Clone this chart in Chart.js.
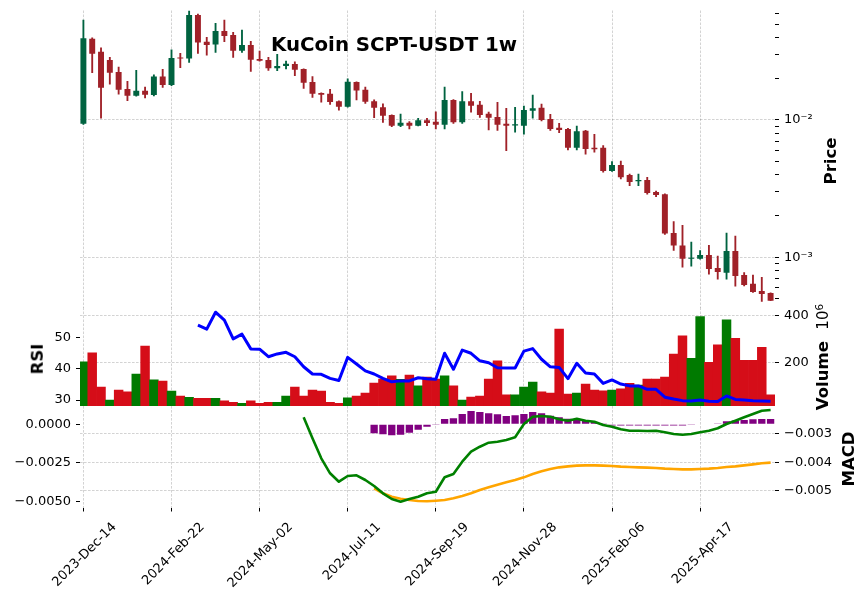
<!DOCTYPE html>
<html>
<head>
<meta charset="utf-8">
<script src="https://cdn.jsdelivr.net/npm/chart.js@4.4.1/dist/chart.umd.min.js"></script>
<style>
html,body{margin:0;padding:0;background:#fff;}
#wrap{position:relative;width:868px;height:600px;overflow:hidden;font-family:"DejaVu Sans",sans-serif;color:#000;}
canvas{position:absolute;left:0;top:0;}
.lbl{position:absolute;white-space:nowrap;font-weight:bold;font-size:16.5px;line-height:1;transform:translate(-50%,-50%) rotate(-90deg);}
.lbl .n{font-weight:normal;font-size:15px;}
.lbl sup{font-size:0.7em;vertical-align:0.5em;line-height:0;}
#title{position:absolute;left:394px;top:45.3px;transform:translate(-50%,-50%);font-weight:bold;font-size:19.8px;white-space:nowrap;line-height:1;}
</style>
</head>
<body>
<div id="wrap">
<canvas id="cPrice" width="868" height="600"></canvas>
<canvas id="cVol" width="868" height="600"></canvas>
<canvas id="cMacd" width="868" height="600"></canvas>
<div id="title">KuCoin SCPT-USDT 1w</div>
<div class="lbl" style="left:831px;top:161px">Price</div>
<div class="lbl" style="left:38px;top:359px">RSI</div>
<div class="lbl" style="left:823px;top:357px">Volume&nbsp;&nbsp;<span class="n">10<sup>6</sup></span></div>
<div class="lbl" style="left:849px;top:459px">MACD</div>
</div>
<script>
// ---------------- data (weekly candles, index 0 = 2023-Dec-14) ----------------
const tickIdx = [0, 10, 20, 30, 40, 50, 60, 70];
const tickLabels = ['2023-Dec-14','2024-Feb-22','2024-May-02','2024-Jul-11','2024-Sep-19','2024-Nov-28','2025-Feb-06','2025-Apr-17'];

const open = [0.0094,0.0391,0.0314,0.0274,0.0224,0.0168,0.0150,0.0163,0.0152,0.0207,
  0.0180,0.0284,0.0280,0.0582,0.0372,0.0354,0.0445,0.0416,0.0320,0.0352,
  0.0278,0.0274,0.0238,0.0247,0.0256,0.0235,0.0189,0.0157,0.0155,0.0137,
  0.0125,0.0189,0.0166,0.0137,0.0124,0.01087,0.00909,0.00956,0.00909,0.00995,
  0.00972,0.00924,0.0140,0.00962,0.0137,0.0129,0.0111,0.0105,0.0094,0.00912,
  0.00909,0.01169,0.0123,0.01017,0.00879,0.0086,0.00629,0.00836,0.00629,0.00629,
  0.00425,0.0047,0.00398,0.00358,0.00366,0.00299,0.00288,0.0015,0.00122,0.000977,
  0.000975,0.00104,0.000836,0.000773,0.00111,0.000743,0.000643,0.000568,0.000549];
const high = [0.0535,0.0397,0.0336,0.0286,0.0243,0.0191,0.0230,0.0174,0.0213,0.0234,
  0.0324,0.0306,0.0625,0.0591,0.0400,0.0506,0.0535,0.0435,0.0452,0.0374,
  0.0318,0.0286,0.0301,0.0269,0.0265,0.0236,0.0207,0.0158,0.0167,0.0138,
  0.0199,0.0190,0.0174,0.0140,0.0131,0.01090,0.01106,0.00972,0.0103,0.0103,
  0.01149,0.0174,0.0141,0.0161,0.01565,0.0137,0.01144,0.01346,0.01217,0.01237,
  0.01265,0.0152,0.01308,0.0110,0.00946,0.0087,0.00904,0.0084,0.00787,0.0065,
  0.00497,0.00503,0.00404,0.00404,0.00383,0.00304,0.0029,0.00182,0.00171,0.00129,
  0.00112,0.00122,0.00102,0.0015,0.00143,0.000773,0.000743,0.000715,0.00055];
const low = [0.0093,0.0221,0.0103,0.0182,0.0154,0.0138,0.0149,0.0145,0.0150,0.0173,
  0.0178,0.0240,0.0263,0.0306,0.0296,0.0311,0.0372,0.0286,0.0311,0.0226,
  0.0268,0.0230,0.0229,0.0235,0.0210,0.0170,0.0146,0.0135,0.0130,0.0118,
  0.0124,0.0140,0.0132,0.0104,0.00962,0.00894,0.00894,0.0086,0.00905,0.00909,
  0.0086,0.0086,0.00946,0.00946,0.01138,0.01046,0.00846,0.00841,0.00598,0.00814,
  0.00787,0.0103,0.00983,0.0084,0.00808,0.00605,0.00605,0.00563,0.00582,0.00416,
  0.00422,0.00372,0.00332,0.00332,0.00288,0.00276,0.00147,0.00112,0.000846,0.00086,
  0.00097,0.000752,0.000692,0.000692,0.000615,0.000618,0.000555,0.000478,0.000483];
const close = [0.0394,0.0304,0.0172,0.0221,0.0166,0.0150,0.0163,0.0153,0.0207,0.0180,
  0.0283,0.0280,0.0582,0.0366,0.0352,0.0445,0.0409,0.0320,0.0352,0.0275,
  0.0270,0.0238,0.0247,0.0257,0.0232,0.0187,0.0155,0.0153,0.0135,0.0125,
  0.0190,0.0164,0.0136,0.0123,0.01075,0.00909,0.00956,0.00909,0.00995,0.00951,
  0.00924,0.0140,0.00962,0.0137,0.0127,0.01087,0.0104,0.00924,0.00909,0.0093,
  0.01183,0.01217,0.0100,0.0086,0.00846,0.00629,0.00827,0.00615,0.00612,0.00425,
  0.0047,0.00383,0.00354,0.00366,0.00294,0.00284,0.00149,0.00122,0.000977,0.000988,
  0.00104,0.000822,0.000781,0.00111,0.000731,0.000628,0.000559,0.00054,0.000483];
// volume in millions (axis shows x 10^6)
const volumeM = [202,241,93,37,80,72,149,270,124,119,
  76,54,49,44,44,44,33,27,23,33,
  23,27,27,54,93,54,80,76,27,23,
  46,54,67,110,128,141,126,145,98,136,
  128,141,98,37,50,54,128,206,59,59,
  93,115,72,67,344,63,67,106,80,77,
  80,85,109,102,128,128,136,236,314,217,
  397,200,275,383,304,209,209,265,59];

const rsiStart = 13;
const rsi = [53.9,52.6,58.0,55.5,49.5,51.0,46.3,46.2,43.8,44.7,
  45.2,43.8,40.6,38.3,38.2,36.9,36.2,43.6,41.5,39.3,
  38.3,36.9,35.8,36.1,36.1,37.1,36.8,36.6,44.9,39.8,
  45.9,44.9,42.5,41.9,40.3,40.2,40.2,45.6,46.4,43.0,
  40.6,40.4,36.8,41.7,38.6,38.3,35.3,36.4,35.1,34.5,
  34.5,33.4,33.4,30.9,30.3,29.8,29.7,30.0,29.6,29.5,
  31.3,30.2,30.0,29.8,29.7,29.6];

const macdStart = 25;
const macdLine = [-0.002414,-0.003151,-0.003853,-0.004379,-0.004674,-0.004474,-0.004449,-0.004614,
  -0.004825,-0.005081,-0.005281,-0.005375,-0.005281,-0.0052,-0.005081,-0.005025,-0.004519,-0.004404,
  -0.003971,-0.003621,-0.003446,-0.003305,-0.00327,-0.003211,-0.003116,-0.002649,-0.002393,-0.002368,
  -0.002393,-0.002484,-0.002533,-0.002463,-0.002533,-0.002568,-0.002684,-0.002744,-0.002835,-0.002884,
  -0.002884,-0.002895,-0.002884,-0.00294,-0.003,-0.003025,-0.003,-0.00294,-0.002884,-0.0028,
  -0.002649,-0.002533,-0.002414,-0.002298,-0.002182,-0.002158];

const signalStart = 33;
const signalLine = [-0.004905,-0.005081,-0.0052,-0.00527,-0.005316,-0.005351,-0.005361,-0.00534,-0.005316,-0.005257,
  -0.005175,-0.005082,-0.004965,-0.00487,-0.004778,-0.004696,-0.004614,-0.004521,-0.004404,-0.00431,
  -0.004228,-0.00417,-0.004135,-0.004111,-0.0041,-0.0041,-0.004111,-0.004123,-0.004146,-0.004158,
  -0.00417,-0.004181,-0.004193,-0.004216,-0.004228,-0.00424,-0.00424,-0.004228,-0.004216,-0.004193,
  -0.004158,-0.004135,-0.0041,-0.004065,-0.004029,-0.004006];

const histStart = 33;
const macdHist = [-0.00058,-0.00065,-0.00071,-0.00067,-0.00054,-0.00035,-0.000155,-0.00005,0.00034,0.00039,
  0.00067,0.00086,0.00079,0.00071,0.00065,0.00054,0.00058,0.00067,0.00079,0.00071,
  0.00056,0.00045,0.00036,0.00032,0.00028,0.00015,0.00005,-0.00007,-0.00007,-0.00007,
  -0.00007,-0.00007,-0.00007,-0.00007,-0.00007,-0.00007,-0.00005,0.0,0.0,0.00005,
  0.0002,0.00024,0.00028,0.00032,0.00034,0.00034];

const priceTicks = [0.0005,0.0006,0.0007,0.0008,0.0009,0.001,0.002,0.003,0.004,0.005,0.006,0.007,0.008,0.009,
  0.01,0.02,0.03,0.04,0.05,0.06];
const priceMajor = [0.01, 0.001];
const priceMajorLabels = ['10\u207B\u00B2', '10\u207B\u00B3'];
const volTicks = [200, 400];
const rsiTicks = [30, 40, 50];
const macdLeftTicks = [-0.005, -0.0025, 0];
const macdRightTicks = [-0.005, -0.004, -0.003];

// ---------------- layout / style ----------------
const W = 868, H = 600;
const PLOT_L = 80, PLOT_R = 775;
const PRICE_TOP = 10.5, PRICE_BOTTOM = 307.5, VOL_BOTTOM = 406, MACD_BOTTOM = 507.5;
const X_MIN = -0.386, X_MAX = 78.5;
const PRICE_MIN = 0.00043087, PRICE_MAX = 0.06272;
const VOL_MIN = 11.2, VOL_MAX = 436.7;
const RSI_MIN = 28.09, RSI_MAX = 59.5;
const HIST_MIN = -0.005375, HIST_MAX = 0.001182;
const MACD_MIN = -0.005579, MACD_MAX = -0.002018;

const UP = '#006340', DOWN = '#a02128', VUP = '#007a00', VDOWN = '#d50d18';
const GRID = 'rgba(0,0,0,0.22)';
const DASH = [2.6, 1.4];
const minus = s => s.replace('-', '\u2212');

Chart.defaults.font.family = '"DejaVu Sans", sans-serif';
Chart.defaults.font.size = 13;
Chart.defaults.color = '#000';

const idx = open.map((_, i) => i);
const candleColor = idx.map(i => close[i] >= open[i] ? UP : DOWN);
const volColor = idx.map(i => (i === 0 || close[i] >= close[i - 1]) ? VUP : VDOWN);

function fixedY(width) {
  return s => { s.width = width; s.paddingTop = 0; s.paddingBottom = 0; };
}
function setTicks(list) {
  return s => { s.ticks = list.map(v => ({value: v})); };
}
function makeX(show) {
  return {
    type: 'linear', position: 'bottom', min: X_MIN, max: X_MAX, offset: false,
    grid: {display: true, color: GRID, lineWidth: 0.8, drawTicks: show, tickLength: 4,
           tickColor: '#000', tickWidth: 1, offset: false},
    border: {display: false, dash: DASH},
    ticks: {display: show, autoSkip: false, maxRotation: 45, minRotation: 45, padding: 8, labelOffset: 31,
            callback: v => { const k = tickIdx.indexOf(v); return k >= 0 ? tickLabels[k] : ''; }},
    afterBuildTicks: setTicks(tickIdx),
    afterFit: s => { s.height = show ? H - MACD_BOTTOM : 0; s.paddingLeft = 0; s.paddingRight = 0; }
  };
}
const common = {
  responsive: false, devicePixelRatio: 1, animation: false, events: [],
  plugins: {legend: {display: false}, tooltip: {enabled: false}, title: {display: false}}
};

// ---------------- price (candles) ----------------
new Chart(document.getElementById('cPrice'), {
  type: 'bar',
  data: {datasets: [
    {label: 'wick', data: idx.map(i => ({x: i, y: [low[i], high[i]]})), backgroundColor: candleColor,
     barThickness: 1.2, grouped: false, order: 2, yAxisID: 'y'},
    {label: 'body', data: idx.map(i => ({x: i, y: [open[i], close[i]]})), backgroundColor: candleColor,
     barPercentage: 0.75, categoryPercentage: 0.9, minBarLength: 1, grouped: false, order: 1, yAxisID: 'y'}
  ]},
  options: Object.assign({}, common, {
    layout: {padding: {left: PLOT_L, right: 0, top: PRICE_TOP, bottom: H - PRICE_BOTTOM}, autoPadding: false},
    scales: {
      x: makeX(false),
      y: {
        type: 'logarithmic', position: 'right', min: PRICE_MIN, max: PRICE_MAX,
        grid: {color: c => (c.tick && priceMajor.includes(c.tick.value)) ? GRID : 'rgba(0,0,0,0)',
               lineWidth: 0.8, tickLength: 4, tickColor: '#000', tickWidth: 1},
        border: {display: false, dash: DASH},
        ticks: {padding: 5, autoSkip: false,
                callback: v => { const k = priceMajor.indexOf(v); return k >= 0 ? priceMajorLabels[k] : ''; }},
        afterBuildTicks: setTicks(priceTicks),
        afterFit: fixedY(W - PLOT_R)
      }
    }
  })
});

// ---------------- volume + RSI ----------------
new Chart(document.getElementById('cVol'), {
  type: 'bar',
  data: {datasets: [
    {type: 'line', label: 'RSI', data: rsi.map((v, k) => ({x: rsiStart + k, y: v})), borderColor: '#0000ff',
     borderWidth: 3, pointRadius: 0, tension: 0, borderJoinStyle: 'round', yAxisID: 'yL', order: 0},
    {label: 'Volume', data: idx.map(i => ({x: i, y: volumeM[i]})), backgroundColor: volColor,
     barPercentage: 1, categoryPercentage: 1, grouped: false, yAxisID: 'yR', order: 1}
  ]},
  options: Object.assign({}, common, {
    layout: {padding: {left: 0, right: 0, top: PRICE_BOTTOM, bottom: H - VOL_BOTTOM}, autoPadding: false},
    scales: {
      x: makeX(false),
      yL: {type: 'linear', position: 'left', min: RSI_MIN, max: RSI_MAX,
           grid: {drawOnChartArea: false, tickLength: 4, tickColor: '#000', tickWidth: 1},
           border: {display: false},
           ticks: {padding: 5, callback: v => String(v)},
           afterBuildTicks: setTicks(rsiTicks), afterFit: fixedY(PLOT_L)},
      yR: {type: 'linear', position: 'right', min: VOL_MIN, max: VOL_MAX,
           grid: {color: GRID, lineWidth: 0.8, tickLength: 4, tickColor: '#000', tickWidth: 1},
           border: {display: false, dash: DASH},
           ticks: {padding: 5, callback: v => String(v)},
           afterBuildTicks: setTicks(volTicks), afterFit: fixedY(W - PLOT_R)}
    }
  })
});

// ---------------- MACD ----------------
new Chart(document.getElementById('cMacd'), {
  type: 'bar',
  data: {datasets: [
    {type: 'line', label: 'MACD', data: macdLine.map((v, k) => ({x: macdStart + k, y: v})), borderColor: '#008000',
     borderWidth: 2.6, pointRadius: 0, tension: 0, borderJoinStyle: 'round', yAxisID: 'yR', order: 0},
    {type: 'line', label: 'Signal', data: signalLine.map((v, k) => ({x: signalStart + k, y: v})), borderColor: '#ffa500',
     borderWidth: 2.6, pointRadius: 0, tension: 0, borderJoinStyle: 'round', yAxisID: 'yR', order: 0},
    {label: 'Histogram', data: macdHist.map((v, k) => ({x: histStart + k, y: v})), backgroundColor: '#800080',
     barPercentage: 0.83, categoryPercentage: 1, grouped: false, yAxisID: 'yL', order: 1}
  ]},
  options: Object.assign({}, common, {
    layout: {padding: {left: 0, right: 0, top: VOL_BOTTOM, bottom: 0}, autoPadding: false},
    scales: {
      x: makeX(true),
      yL: {type: 'linear', position: 'left', min: HIST_MIN, max: HIST_MAX,
           grid: {drawOnChartArea: false, tickLength: 4, tickColor: '#000', tickWidth: 1},
           border: {display: false},
           ticks: {padding: 5, callback: v => minus(v.toFixed(4))},
           afterBuildTicks: setTicks(macdLeftTicks), afterFit: fixedY(PLOT_L)},
      yR: {type: 'linear', position: 'right', min: MACD_MIN, max: MACD_MAX,
           grid: {color: GRID, lineWidth: 0.8, tickLength: 4, tickColor: '#000', tickWidth: 1},
           border: {display: false, dash: DASH},
           ticks: {padding: 5, callback: v => minus(v.toFixed(3))},
           afterBuildTicks: setTicks(macdRightTicks), afterFit: fixedY(W - PLOT_R)}
    }
  })
});
</script>
</body>
</html>
